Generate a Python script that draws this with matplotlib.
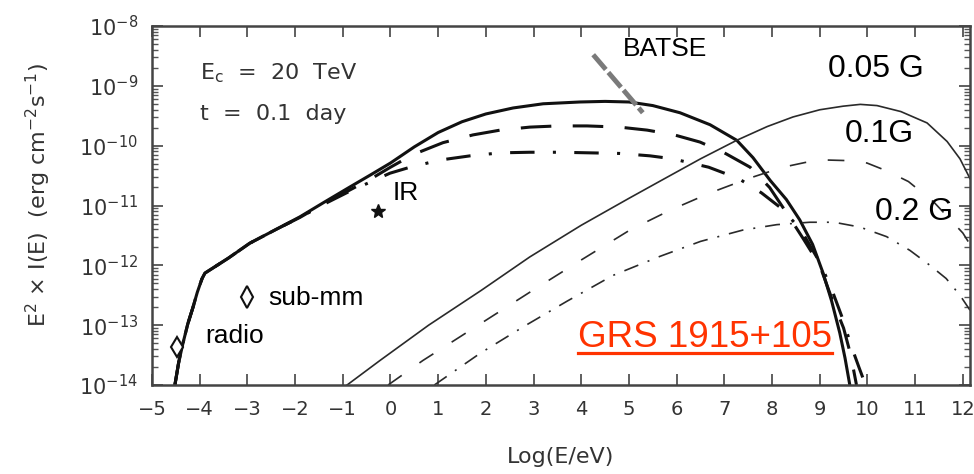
import numpy as np
import matplotlib
matplotlib.use("Agg")
import matplotlib.pyplot as plt
from matplotlib.lines import Line2D
from matplotlib.transforms import IdentityTransform
from matplotlib.ticker import LogLocator, NullFormatter

# Spectra of GRS 1915+105: synchrotron (thick) and IC (thin) curves
# values are log10 of E^2 x I(E)

# thick curves (synchrotron)
solid_x = [-4.52, -4.44, -4.35, -4.25, -4.14, -4.05, -3.95, -3.89, -3.4, -2.95, -2.4, -1.9, -1.4, -0.85, -0.4,
           0.0, 0.5, 1.0, 1.5, 2.0, 2.57, 3.2, 3.97, 4.5, 5.0, 5.5, 6.07, 6.7, 7.26, 7.6, 7.96, 8.3, 8.58, 8.85,
           9.07, 9.25, 9.42, 9.53, 9.63]
solid_y = [-14.0, -13.62, -13.3, -12.98, -12.7, -12.45, -12.22, -12.13, -11.88, -11.63, -11.4, -11.19, -10.95,
           -10.69, -10.48, -10.29, -10.02, -9.78, -9.6, -9.47, -9.37, -9.3, -9.27, -9.26, -9.27, -9.33, -9.45,
           -9.65, -9.91, -10.2, -10.58, -10.9, -11.24, -11.65, -12.13, -12.6, -13.13, -13.55, -14.0]

dash_x = [-4.52, -4.44, -4.35, -4.25, -4.14, -4.05, -3.95, -3.89, -3.4, -2.95, -2.4, -1.9, -1.4, -0.85, -0.4,
          0.0, 0.47, 1.1, 1.73, 2.3, 2.92, 3.5, 4.12, 4.8, 5.38, 5.95, 6.49, 7.0, 7.54, 7.95, 8.31, 8.65, 9.0,
          9.25, 9.5, 9.65, 9.77]
dash_y = [-14.0, -13.62, -13.3, -12.98, -12.7, -12.45, -12.22, -12.13, -11.88, -11.63, -11.4, -11.2, -10.97,
          -10.74, -10.55, -10.36, -10.15, -9.95, -9.82, -9.74, -9.69, -9.67, -9.67, -9.69, -9.74, -9.82, -9.94,
          -10.12, -10.36, -10.7, -11.13, -11.55, -12.0, -12.55, -13.05, -13.5, -14.0]

dashdot_x = [-4.52, -4.44, -4.35, -4.25, -4.14, -4.05, -3.95, -3.89, -3.4, -2.95, -2.4, -1.9, -1.4, -0.85, -0.4,
             -0.01, 0.41, 1.04, 1.67, 2.3, 2.92, 3.55, 4.18, 4.81, 5.44, 5.92, 6.67, 7.3, 7.78, 8.2, 8.6, 9.0,
             9.25, 9.46, 9.67, 9.82, 9.96]
dashdot_y = [-14.0, -13.62, -13.3, -12.98, -12.7, -12.45, -12.22, -12.13, -11.88, -11.63, -11.4, -11.2, -10.98,
             -10.76, -10.6, -10.46, -10.36, -10.24, -10.17, -10.12, -10.11, -10.11, -10.12, -10.13, -10.17,
             -10.22, -10.36, -10.55, -10.79, -11.05, -11.4, -11.95, -12.4, -12.85, -13.37, -13.7, -14.0]

# thin curves (inverse Compton) for B = 0.05 G, 0.1 G, 0.2 G
ic005_x = [-0.91, -0.22, 0.8, 1.9, 2.92, 4.0, 5.0, 5.68, 6.5, 7.26, 7.9, 8.44, 9.0, 9.49, 9.85, 10.2, 10.7,
           11.25, 11.67, 11.94, 12.15]
ic005_y = [-14.0, -13.59, -13.0, -12.42, -11.86, -11.33, -10.88, -10.58, -10.22, -9.91, -9.68, -9.52, -9.4,
           -9.34, -9.31, -9.33, -9.43, -9.62, -9.93, -10.22, -10.55]

ic01_x = [-0.05, 0.68, 1.8, 2.92, 4.0, 5.02, 5.86, 6.7, 7.5, 8.23, 8.7, 9.15, 9.6, 9.99, 10.4, 10.86, 11.4,
          12.0, 12.15]
ic01_y = [-14.0, -13.59, -13.02, -12.45, -11.91, -11.41, -11.08, -10.79, -10.55, -10.36, -10.28, -10.24, -10.25,
          -10.29, -10.42, -10.6, -10.95, -11.46, -11.65]

ic02_x = [0.92, 1.88, 2.8, 3.7, 4.66, 5.65, 6.5, 7.39, 8.1, 8.79, 9.3, 9.84, 10.4, 10.89, 11.31, 11.65, 11.94,
          12.15]
ic02_y = [-14.0, -13.47, -13.02, -12.6, -12.17, -11.85, -11.6, -11.41, -11.32, -11.28, -11.28, -11.36, -11.52,
          -11.75, -12.0, -12.22, -12.5, -12.75]

# BATSE segment
batse_x = [4.25, 5.29]
batse_y = [-8.48, -9.45]

# data points: radio, sub-mm, IR
pt_x = [-4.48, -3.01, -0.26]
pt_y = [-13.37, -12.53, -11.09]

xticks = list(range(-5, 13))

fig = plt.figure(figsize=(9.74, 4.74), dpi=100)
ax = fig.add_axes([152/974, 89/474, 818/974, 359/474])
ax.set_yscale("log")
ax.set_xlim(-5, 12.15)
ax.set_ylim(1e-14, 1e-8)

ink = "#111111"
thin = "#2a2a2a"

def lin(v):
    return 10**np.array(v)

# thick curves
ax.plot(solid_x, lin(solid_y), color=ink, lw=2.2, solid_capstyle="round")
ax.plot(dash_x, lin(dash_y), color=ink, lw=2.2, dashes=(10, 7))
ax.plot(dashdot_x, lin(dashdot_y), color=ink, lw=2.2, dashes=(8, 6, 1, 6))

# thin curves
ax.plot(ic005_x, lin(ic005_y), color=thin, lw=1.2)
ax.plot(ic01_x, lin(ic01_y), color=thin, lw=1.2, dashes=(10, 13))
ax.plot(ic02_x, lin(ic02_y), color=thin, lw=1.2, dashes=(9, 6, 1.2, 6))

# BATSE
ax.plot(batse_x, lin(batse_y), color="#7a7a7a", lw=3.5, dashes=(4, 0.8), solid_capstyle="butt")

# points
ax.plot(pt_x[0], 10**pt_y[0], marker="d", ms=10, mfc="white", mec=ink, mew=1.5, ls="none")
ax.plot(pt_x[1], 10**pt_y[1], marker="d", ms=11, mfc="white", mec=ink, mew=1.5, ls="none")
ax.plot(pt_x[2], 10**pt_y[2], marker="*", ms=10, mfc=ink, mec=ink, ls="none")

# axes style
for s in ax.spines.values():
    s.set_linewidth(1.8)
    s.set_color("#444444")
ax.set_xticks(xticks)
ax.yaxis.set_major_locator(LogLocator(base=10, numticks=10))
ax.yaxis.set_minor_locator(LogLocator(base=10, subs=np.arange(2, 10), numticks=20))
ax.yaxis.set_minor_formatter(NullFormatter())
ax.tick_params(which="major", direction="in", top=True, right=True, length=8, width=1.2, color="#444444",
               labelcolor="#333333")
ax.tick_params(which="minor", direction="in", right=True, length=4, width=1.0, color="#555555")
ax.tick_params(axis="x", pad=11, labelsize=14)
ax.tick_params(axis="y", pad=10, labelsize=15)
for lab in ax.get_xticklabels() + ax.get_yticklabels():
    lab.set_family("DejaVu Sans")

ax.set_xlabel("Log(E/eV)", fontsize=16, color="#333333", labelpad=20)
ax.set_ylabel(r"E$^2$ × I(E)  (erg cm$^{-2}$s$^{-1}$)", fontsize=16, color="#333333")
ax.yaxis.set_label_coords(-0.121, 0.53)

# parameters in top-left
ax.text(-3.99, 10**-8.90, r"E$_\mathrm{c}$  =  20  TeV", fontsize=16, color="#333333", va="baseline")
ax.text(-3.99, 10**-9.57, "t  =  0.1  day", fontsize=16, color="#333333", va="baseline")

# labels
lab_font = "Liberation Sans"
ax.text(-3.89, 10**-13.30, "radio", fontsize=19, family=lab_font, va="baseline")
ax.text(-2.57, 10**-12.67, "sub-mm", fontsize=19, family=lab_font, va="baseline")
ax.text(0.05, 10**-10.91, "IR", fontsize=19, family=lab_font, va="baseline")
ax.text(4.87, 10**-8.50, "BATSE", fontsize=19, family=lab_font, va="baseline")
ax.text(9.17, 10**-8.85, "0.05 G", fontsize=23, family=lab_font, va="baseline")
ax.text(9.53, 10**-9.94, "0.1G", fontsize=23, family=lab_font, va="baseline")
ax.text(10.16, 10**-11.24, "0.2 G", fontsize=23, family=lab_font, va="baseline")

grs_x, grs_y = 3.93, -13.37
grs = ax.text(grs_x, 10**grs_y, "GRS 1915+105", fontsize=26.5, family=lab_font, color="#ff3300",
              va="baseline")

# underline the source name
fig.canvas.draw()
bb = grs.get_window_extent(renderer=fig.canvas.get_renderer())
base = ax.transData.transform((grs_x, 10**grs_y))[1]
fig.add_artist(Line2D([bb.x0, bb.x1], [base - 6, base - 6], color="#ff3300", lw=2.3,
                      transform=IdentityTransform()))

fig.savefig("out.png", dpi=100)
